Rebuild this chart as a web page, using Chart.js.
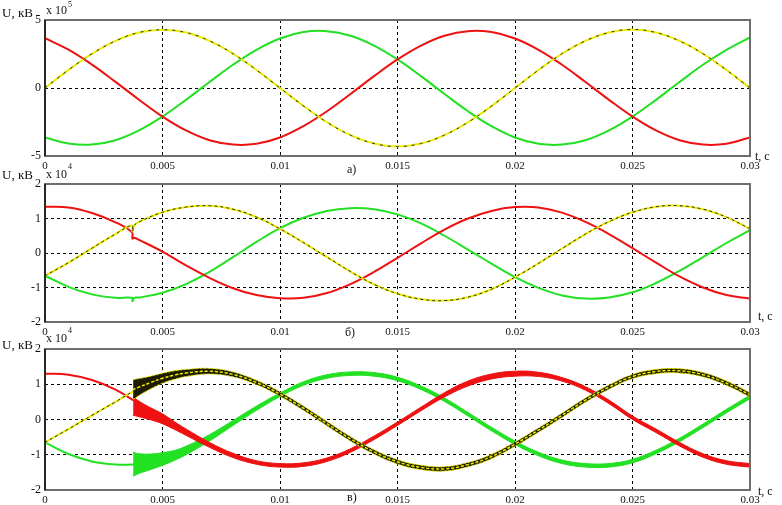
<!DOCTYPE html>
<html>
<head>
<meta charset="utf-8">
<script src="https://cdn.jsdelivr.net/npm/chart.js@4.4.1/dist/chart.umd.min.js"></script>
<style>
    body { margin: 0; background: #fff; }
    .wrap { position: relative; width: 782px; height: 505px; }
    canvas { position: absolute; left: 0; top: 0; }
</style>
</head>
<body>
<div class="wrap">
    <canvas id="chart-a" width="782" height="505"></canvas>
    <canvas id="chart-b" width="782" height="505"></canvas>
    <canvas id="chart-c" width="782" height="505"></canvas>
</div>
<script>
// шкала времени (подписи оси t, c)
const tickTimes = [0, 0.005, 0.01, 0.015, 0.02, 0.025, 0.03];

// а) - время в мс, напряжения x 10^5
const t1 = [0, 1, 2, 3, 4, 5, 6, 7, 8, 9, 10, 11, 12, 13, 14, 15, 16, 17, 18, 19, 20, 21, 22, 23, 24, 25, 26, 27, 28, 29, 30];
const yellow1 = [0, 1.33, 2.52, 3.46, 4.08, 4.28, 4.08, 3.47, 2.52, 1.32, 0, -1.32, -2.52, -3.47, -4.08, -4.30, -4.08, -3.46, -2.52, -1.33, 0, 1.32, 2.52, 3.47, 4.08, 4.30, 4.08, 3.46, 2.52, 1.32, 0];
const red1 = [3.66, 2.82, 1.72, 0.45, -0.86, -2.10, -3.12, -3.84, -4.16, -4.10, -3.64, -2.80, -1.71, -0.44, 0.87, 2.10, 3.12, 3.84, 4.18, 4.11, 3.64, 2.81, 1.71, 0.44, -0.87, -2.10, -3.12, -3.84, -4.16, -4.10, -3.64];
const green1 = [-3.64, -4.08, -4.16, -3.84, -3.12, -2.10, -0.87, 0.44, 1.71, 2.81, 3.64, 4.11, 4.18, 3.84, 3.12, 2.10, 0.87, -0.44, -1.71, -2.81, -3.64, -4.10, -4.16, -3.84, -3.12, -2.10, -0.87, 0.44, 1.71, 2.81, 3.72];

// б) - время в мс, x 10^4 (с провалом около 3.7 мс)
const t2 = [0, 1, 2, 3, 3.7, 3.72, 3.8, 4, 5, 6, 7, 8, 9, 10, 11, 12, 13, 14, 15, 16, 17, 18, 19, 20, 21, 22, 23, 24, 25, 26, 27, 28, 29, 30];
const red2 = [1.34, 1.32, 1.16, 0.89, 0.60, 0.42, 0.44, 0.38, 0.04, -0.36, -0.72, -1.02, -1.22, -1.31, -1.30, -1.16, -0.90, -0.55, -0.14, 0.28, 0.68, 1.00, 1.22, 1.33, 1.32, 1.17, 0.90, 0.55, 0.14, -0.28, -0.68, -1.00, -1.22, -1.32];
const yellow2 = [-0.66, -0.28, 0.14, 0.55, 0.80, 0.62, 0.80, 0.90, 1.18, 1.33, 1.37, 1.27, 1.04, 0.70, 0.30, -0.12, -0.54, -0.91, -1.18, -1.34, -1.38, -1.28, -1.05, -0.70, -0.30, 0.13, 0.55, 0.91, 1.18, 1.34, 1.37, 1.27, 1.04, 0.70];
const green2 = [-0.66, -0.98, -1.20, -1.30, -1.30, -1.40, -1.30, -1.29, -1.15, -0.90, -0.55, -0.12, 0.32, 0.72, 1.02, 1.22, 1.30, 1.27, 1.12, 0.86, 0.50, 0.10, -0.31, -0.70, -1.01, -1.23, -1.32, -1.29, -1.14, -0.87, -0.52, -0.12, 0.29, 0.66];

// в) - до коммутации (мс, x 10^4)
const t3a = [0, 1, 2, 3, 3.75];
const red3a = [1.30, 1.27, 1.12, 0.85, 0.55];
const yellow3a = [-0.65, -0.27, 0.12, 0.50, 0.80];
const green3a = [-0.65, -0.98, -1.19, -1.28, -1.28];

// в) - после коммутации: верхняя и нижняя граница полосы
const t3b = [3.75, 4, 4.5, 5, 5.5, 6, 7, 8, 9, 10, 11, 12, 13, 14, 15, 16, 17, 18, 19, 20, 21, 22, 23, 24, 25, 26, 27, 28, 29, 30];
const red3Up = [0.64, 0.52, 0.33, 0.16, -0.06, -0.27, -0.65, -0.96, -1.17, -1.25, -1.23, -1.09, -0.83, -0.47, -0.07, 0.35, 0.76, 1.09, 1.29, 1.37, 1.34, 1.19, 0.93, 0.55, 0.10, -0.27, -0.65, -0.97, -1.17, -1.25];
const red3Low = [0.12, 0.08, -0.01, -0.12, -0.28, -0.45, -0.79, -1.08, -1.27, -1.35, -1.33, -1.19, -0.93, -0.57, -0.17, 0.25, 0.64, 0.95, 1.15, 1.23, 1.22, 1.09, 0.83, 0.45, 0.00, -0.37, -0.75, -1.07, -1.27, -1.35];
const green3Up = [-0.93, -0.97, -0.98, -0.94, -0.88, -0.76, -0.43, -0.03, 0.38, 0.75, 1.07, 1.27, 1.35, 1.33, 1.20, 0.95, 0.61, 0.20, -0.22, -0.61, -0.93, -1.15, -1.25, -1.25, -1.13, -0.87, -0.53, -0.13, 0.29, 0.69];
const green3Low = [-1.61, -1.53, -1.42, -1.30, -1.16, -1.00, -0.61, -0.17, 0.26, 0.65, 0.97, 1.17, 1.25, 1.23, 1.10, 0.85, 0.51, 0.10, -0.32, -0.71, -1.03, -1.25, -1.35, -1.35, -1.23, -0.97, -0.63, -0.23, 0.19, 0.59];
const yellow3Mid = [0.85, 0.92, 1.05, 1.17, 1.26, 1.32, 1.37, 1.28, 1.05, 0.72, 0.32, -0.12, -0.55, -0.92, -1.20, -1.36, -1.40, -1.28, -1.05, -0.70, -0.30, 0.12, 0.55, 0.92, 1.22, 1.36, 1.38, 1.27, 1.03, 0.70];
const yellow3Up = [1.13, 1.16, 1.23, 1.31, 1.38, 1.42, 1.45, 1.35, 1.11, 0.78, 0.38, -0.06, -0.49, -0.86, -1.14, -1.30, -1.34, -1.22, -0.99, -0.64, -0.24, 0.18, 0.61, 0.98, 1.28, 1.42, 1.44, 1.33, 1.09, 0.76];
const yellow3Low = [0.57, 0.68, 0.87, 1.03, 1.14, 1.22, 1.29, 1.21, 0.99, 0.66, 0.26, -0.18, -0.61, -0.98, -1.26, -1.42, -1.46, -1.34, -1.11, -0.76, -0.36, 0.06, 0.49, 0.86, 1.16, 1.30, 1.32, 1.21, 0.97, 0.64];

const RED = '#ee1111';
const GREEN = '#22e022';
const YELLOW = '#ecec00';
const FONT = '"Liberation Serif", "Times New Roman", serif';

// точки {x, y}: мс -> с
function pts(times, values) {
    return times.map((t, i) => ({x: t / 1000, y: values[i]}));
}

function line(times, values, color, extra) {
    return Object.assign({data: pts(times, values), borderColor: color, borderWidth: 2, fill: false}, extra || {});
}

// рамка графика и подписи (U, кВ, x 10^n, t, c, а) б) в))
const frameAndText = {
    id: 'frameAndText',
    afterDraw(chart, args, opts) {
        const {ctx, chartArea: a} = chart;
        ctx.save();
        ctx.strokeStyle = '#6e6e6e';
        ctx.lineWidth = 2;
        ctx.strokeRect(a.left, a.top, a.right - a.left, a.bottom - a.top);
        ctx.strokeStyle = '#111';
        ctx.lineWidth = 1.5;
        ctx.beginPath();
        ctx.moveTo(a.left, a.top);
        ctx.lineTo(a.left, a.bottom);
        ctx.stroke();
        ctx.fillStyle = '#111';
        ctx.textBaseline = 'middle';
        (opts.texts || []).forEach(t => {
            ctx.font = (t.size || 12) + 'px ' + FONT;
            ctx.fillText(t.text, t.x, t.y);
        });
        ctx.restore();
    }
};

function makePanel(id, cfg) {
    return new Chart(document.getElementById(id), {
        type: 'line',
        data: {datasets: cfg.datasets},
        options: {
            responsive: false,
            animation: false,
            events: [],
            layout: {padding: {top: cfg.top, bottom: 505 - cfg.bottom - 15, left: 0, right: 32}},
            elements: {
                point: {radius: 0},
                line: {tension: 0.4, borderCapStyle: 'round'}
            },
            plugins: {
                legend: {display: false},
                tooltip: {enabled: false},
                frameAndText: {texts: cfg.texts}
            },
            scales: {
                x: {
                    type: 'linear', min: 0, max: 0.03,
                    afterFit: s => { s.height = 15; },
                    afterBuildTicks: s => { s.ticks = tickTimes.map(v => ({value: v})); },
                    ticks: {
                        maxRotation: 0, autoSkip: false, padding: 4, color: '#111',
                        font: {family: FONT, size: 11},
                        callback: v => String(+v.toFixed(3))
                    },
                    grid: {color: '#000', lineWidth: 1, drawTicks: false},
                    border: {display: false, dash: [3, 3]}
                },
                y: {
                    min: cfg.yTicks[0], max: cfg.yTicks[cfg.yTicks.length - 1],
                    afterFit: s => { s.width = 45; },
                    afterBuildTicks: s => { s.ticks = cfg.yTicks.map(v => ({value: v})); },
                    ticks: {padding: 4, color: '#111', font: {family: FONT, size: 12}},
                    grid: {color: '#000', lineWidth: 1, drawTicks: false},
                    border: {display: false, dash: [3, 3]}
                }
            }
        },
        plugins: [frameAndText]
    });
}

// а)
makePanel('chart-a', {
    top: 20, bottom: 156,
    yTicks: [-5, 0, 5],
    datasets: [
        line(t1, yellow1, '#222', {borderWidth: 1, borderDash: [2, 6]}),
        line(t1, yellow1, YELLOW),
        line(t1, red1, RED),
        line(t1, green1, GREEN)
    ],
    texts: [
        {text: 'U, кВ', x: 2, y: 14, size: 13},
        {text: 'x 10', x: 46, y: 11},
        {text: '5', x: 68, y: 5, size: 8},
        {text: 't, c', x: 755, y: 157},
        {text: 'а)', x: 347, y: 170}
    ]
});

// б)
makePanel('chart-b', {
    top: 184, bottom: 322,
    yTicks: [-2, -1, 0, 1, 2],
    datasets: [
        line(t2, yellow2, '#222', {borderWidth: 1, borderDash: [2, 4]}),
        line(t2, yellow2, YELLOW),
        line(t2, red2, RED),
        line(t2, green2, GREEN)
    ],
    texts: [
        {text: 'U, кВ', x: 2, y: 176, size: 13},
        {text: 'x 10', x: 46, y: 175},
        {text: '4', x: 68, y: 167, size: 8},
        {text: 't, c', x: 758, y: 317},
        {text: 'б)', x: 345, y: 333}
    ]
});

// в)
makePanel('chart-c', {
    top: 349, bottom: 490,
    yTicks: [-2, -1, 0, 1, 2],
    datasets: [
        line(t3b, yellow3Mid, YELLOW, {borderWidth: 1.5, borderDash: [2, 3]}),
        line(t3b, yellow3Up, '#d8d800', {borderWidth: 1, borderDash: [2, 2]}),
        line(t3b, yellow3Low, '#d8d800', {borderWidth: 1, borderDash: [2, 2], fill: '-1', backgroundColor: '#1e1c00'}),
        line(t3a, yellow3a, '#222', {borderWidth: 1, borderDash: [2, 4]}),
        line(t3a, yellow3a, YELLOW),
        line(t3b, red3Up, RED, {borderWidth: 1}),
        line(t3b, red3Low, RED, {borderWidth: 1, fill: '-1', backgroundColor: RED}),
        line(t3a, red3a, RED),
        line(t3b, green3Up, GREEN, {borderWidth: 1}),
        line(t3b, green3Low, GREEN, {borderWidth: 1, fill: '-1', backgroundColor: GREEN}),
        line(t3a, green3a, GREEN)
    ],
    texts: [
        {text: 'U, кВ', x: 2, y: 346, size: 13},
        {text: 'x 10', x: 46, y: 339},
        {text: '4', x: 68, y: 331, size: 8},
        {text: 't, c', x: 758, y: 492},
        {text: 'в)', x: 347, y: 498}
    ]
});
</script>
</body>
</html>
